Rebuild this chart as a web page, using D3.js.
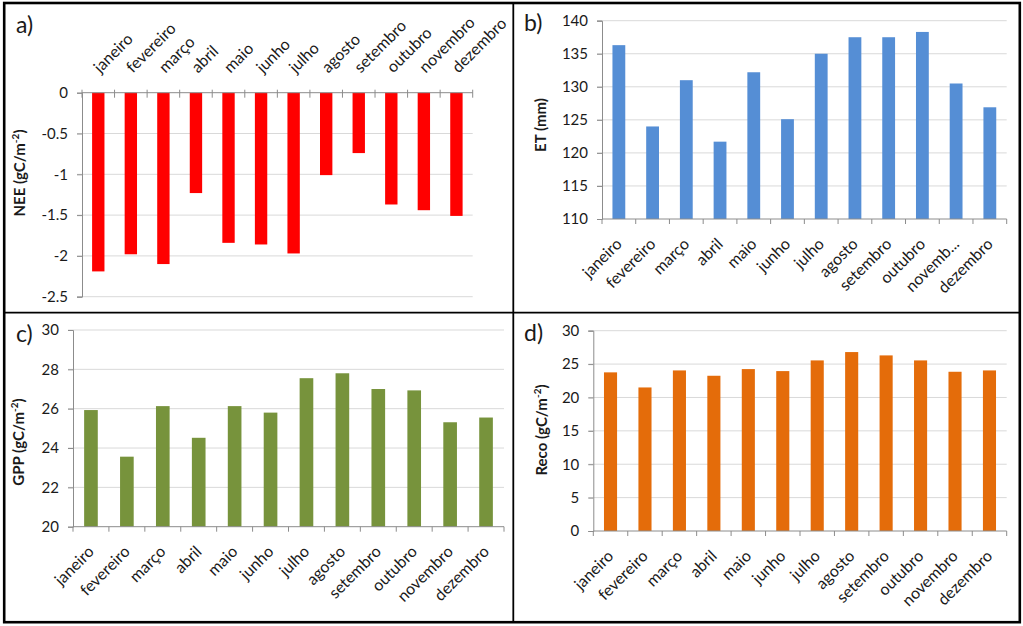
<!DOCTYPE html>
<html><head><meta charset="utf-8">
<script src="https://cdn.jsdelivr.net/npm/d3@7"></script>
<style>
html,body{margin:0;padding:0;background:#fff;}
text{font-family:Lato,"Open Sans",sans-serif;}
</style></head>
<body>
<svg id="chart" width="1023" height="626"></svg>
<script>
const months = ["janeiro","fevereiro","março","abril","maio","junho","julho","agosto","setembro","outubro","novembro","dezembro"];
const monthsET = ["janeiro","fevereiro","março","abril","maio","junho","julho","agosto","setembro","outubro","novemb...","dezembro"];
const neeValues = [-2.19,-1.98,-2.10,-1.23,-1.84,-1.86,-1.97,-1.01,-0.74,-1.37,-1.44,-1.51];
const etValues = [136.3,124.0,131.0,121.7,132.2,125.1,135.0,137.5,137.5,138.3,130.5,126.9];
const gppValues = [25.93,23.56,26.13,24.52,26.13,25.80,27.55,27.80,27.00,26.93,25.31,25.55];
const recoValues = [23.76,21.50,24.05,23.25,24.25,23.95,25.55,26.80,26.30,25.55,23.85,24.05];
const neeTicks = [0,-0.5,-1,-1.5,-2,-2.5];
const etTicks = [110,115,120,125,130,135,140];
const gppTicks = [20,22,24,26,28,30];
const recoTicks = [0,5,10,15,20,25,30];

const svg = d3.select("#chart");
svg.append("rect").attr("width",1023).attr("height",626).attr("fill","#fff");

const GRID = "#d9d9d9", AXIS = "#8c8c8c", TXT = "#1a1a1a";

function panel(o){
  const g = svg.append("g");
  const x = d3.scaleBand().domain(o.labels).range([o.x0,o.x1]).paddingInner(0.62).paddingOuter(0.31);
  const y = d3.scaleLinear().domain(o.domain).range(o.range);
  const base = o.base;
  g.selectAll(".grid").data(o.ticks.filter(t=>t!==base)).join("line")
    .attr("x1",o.x0-5).attr("x2",o.x1).attr("y1",d=>y(d)).attr("y2",d=>y(d))
    .attr("stroke",GRID).attr("stroke-width",1);
  const ya = d3.axisLeft(y).tickValues(o.ticks).tickSize(5).tickPadding(9).tickFormat(d=>String(d));
  const yg = g.append("g").attr("transform",`translate(${o.x0},0)`).call(ya);
  yg.select(".domain").attr("stroke",AXIS);
  yg.selectAll(".tick line").attr("stroke",AXIS);
  yg.selectAll(".tick text").attr("font-size",15).attr("fill",TXT).attr("font-family","Lato");
  g.selectAll(".bar").data(o.values).join("rect")
    .attr("x",(d,i)=>x(o.labels[i]))
    .attr("width",x.bandwidth())
    .attr("y",d=>Math.min(y(d),y(base)))
    .attr("height",d=>Math.abs(y(d)-y(base)))
    .attr("fill",o.color);
  const by = y(base);
  g.append("line").attr("x1",o.x0).attr("x2",o.x1).attr("y1",by).attr("y2",by).attr("stroke",AXIS);
  const step = (o.x1-o.x0)/o.labels.length;
  g.selectAll(".xt").data(d3.range(o.labels.length+1)).join("line")
    .attr("x1",i=>o.x0+i*step).attr("x2",i=>o.x0+i*step)
    .attr("y1",by+(o.top?-3:0)).attr("y2",by+5).attr("stroke",AXIS);
  g.selectAll(".xl").data(o.xlabels).join("text")
    .attr("font-size",16).attr("fill",TXT)
    .attr("text-anchor",o.top?"start":"end")
    .attr("transform",(d,i)=>{
      const cx = x(o.labels[i]) + x.bandwidth()/2;
      return o.top ? `translate(${cx+2},${by-19}) rotate(-45)` : `translate(${cx+4},${by+26}) rotate(-45)`;
    })
    .text(d=>d);
  const t = g.append("text").attr("font-size",15).attr("font-weight","bold").attr("fill",TXT)
    .attr("text-anchor","middle")
    .attr("transform",`translate(${o.tx},${o.ty}) rotate(-90)`);
  t.append("tspan").text(o.title);
  if(o.sup){
    t.append("tspan").attr("font-size",10).attr("dy",-6).text(o.sup);
    t.append("tspan").attr("dy",6).text(")");
  }
  g.append("text").attr("x",o.lx).attr("y",o.ly).attr("font-size",23).attr("fill",TXT).text(o.letter);
}

panel({labels:months,xlabels:months,values:neeValues,ticks:neeTicks,domain:[-2.5,0],range:[296.7,92.7],base:0,
  x0:82,x1:472.7,color:"#ff0000",top:true,title:"NEE (gC/m",sup:"-2",tx:25,ty:173,letter:"a)",lx:16,ly:33});
panel({labels:months,xlabels:monthsET,values:etValues,ticks:etTicks,domain:[110,140],range:[219,20.7],base:110,
  x0:602,x1:1006.7,color:"#558ed5",top:false,title:"ET (mm)",tx:546,ty:125,letter:"b)",lx:524,ly:31});
panel({labels:months,xlabels:months,values:gppValues,ticks:gppTicks,domain:[20,30],range:[526.7,330],base:20,
  x0:73,x1:504,color:"#77933c",top:false,title:"GPP (gC/m",sup:"-2",tx:24,ty:442,letter:"c)",lx:16,ly:342});
panel({labels:months,xlabels:months,values:recoValues,ticks:recoTicks,domain:[0,30],range:[531,330.7],base:0,
  x0:593.3,x1:1006.7,color:"#e46c0a",top:false,title:"Reco (gC/m",sup:"-2",tx:547,ty:430,letter:"d)",lx:524,ly:341});

svg.append("line").attr("x1",513.3).attr("x2",513.3).attr("y1",3).attr("y2",622).attr("stroke","#000").attr("stroke-width",1.8);
svg.append("line").attr("x1",4).attr("x2",1020).attr("y1",312.7).attr("y2",312.7).attr("stroke","#000").attr("stroke-width",1.8);
svg.append("rect").attr("x",4.2).attr("y",3).attr("width",1015.6).attr("height",619.2)
  .attr("fill","none").attr("stroke","#000").attr("stroke-width",2.6);
</script>
</body></html>
